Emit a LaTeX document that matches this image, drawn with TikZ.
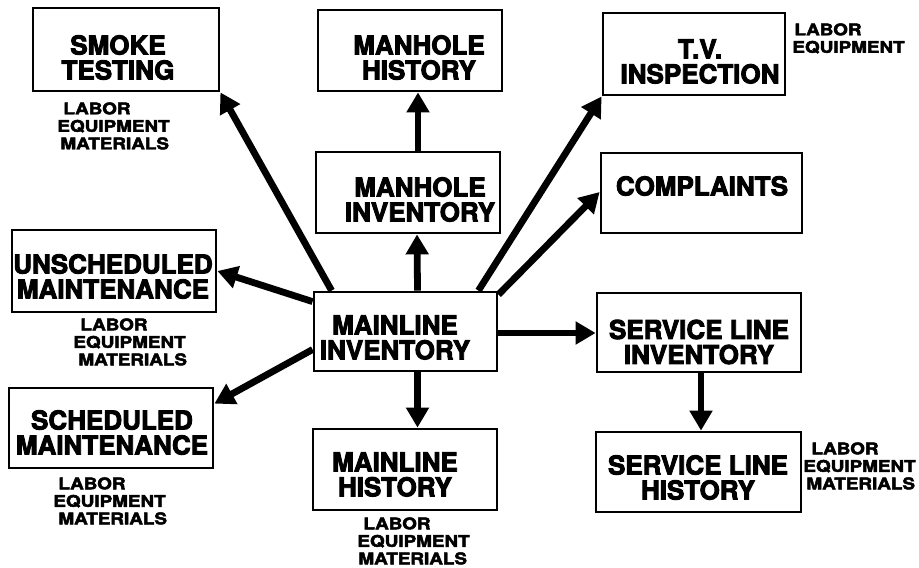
\documentclass[tikz,border=0pt]{standalone}
\usepackage{fontspec}
\setmainfont{TeX Gyre Heros}[BoldFeatures={FakeBold=3.5}]
\newfontfamily\lblfont{TeX Gyre Heros}[FakeStretch=1.18,BoldFeatures={FakeBold=3}]
\usetikzlibrary{arrows.meta,calc}
\newcommand\drawbox[5]{\node[boxnode, minimum width={(#4-#2)*0.5pt}, minimum height={(#5-#3)*0.5pt}] (#1) at ({(#2+#4)/2},{(#3+#5)/2}) {};}
\begin{document}
\begin{tikzpicture}[x=0.5pt,y=-0.5pt,
  boxnode/.style={draw, line width=1.4pt, inner sep=0pt, rectangle},
  main/.style={font=\fontsize{13}{12.5}\selectfont\bfseries, align=center, inner sep=0pt},
  lbl/.style={font=\lblfont\fontsize{8}{8.75}\selectfont\bfseries, align=left, inner sep=0pt, anchor=north west},
  arr/.style={line width=3.4pt, -{Triangle[width=11pt,length=10pt]}}]
\useasboundingbox (0,0) rectangle (919,567);

% boxes
\drawbox{smoke}{33}{8}{219}{91}
\drawbox{mhist}{318}{10}{502}{91}
\drawbox{tv}{603}{13}{785}{95}
\drawbox{mhinv}{316}{152}{500}{233}
\drawbox{compl}{601}{153}{802}{233}
\drawbox{unsch}{12}{230}{216}{312}
\drawbox{mlinv}{314}{292}{497}{371}
\drawbox{slinv}{597}{293}{801}{372}
\drawbox{sched}{9}{388}{213}{468}
\drawbox{mlhist}{313}{429}{497}{510}
\drawbox{slhist}{596}{432}{801}{512}

% box texts
\node[main] (smoke-t) at (118,57.5) {SMOKE\\TESTING};
\node[main] (mhist-t) at (419,57.5) {MANHOLE\\HISTORY};
\node[main] (tv-t) at (700,61.5) {T.V.\\INSPECTION};
\node[main] (mhinv-t) at (420,199.5) {MANHOLE\\INVENTORY};
\node[main] (compl-t) at (702,186) {COMPLAINTS};
\node[main] (unsch-t) at (113,276.5) {UNSCHEDULED\\MAINTENANCE};
\node[main] (mlinv-t) at (395,337.5) {MAINLINE\\INVENTORY};
\node[main] (slinv-t) at (699,342) {SERVICE LINE\\INVENTORY};
\node[main] (sched-t) at (112,432.5) {SCHEDULED\\MAINTENANCE};
\node[main] (mlhist-t) at (395,474.5) {MAINLINE\\HISTORY};
\node[main] (slhist-t) at (698,477.5) {SERVICE LINE\\HISTORY};

% resource labels
\node[lbl] (smoke-l) at (57,102) {\hspace*{3pt}LABOR\\EQUIPMENT\\\hspace*{1.5pt}MATERIALS};
\node[lbl] (unsch-l) at (73,318) {\hspace*{3.5pt}LABOR\\EQUIPMENT\\\hspace*{2.5pt}MATERIALS};
\node[lbl] (sched-l) at (53,477) {\hspace*{2.5pt}LABOR\\EQUIPMENT\\\hspace*{2.5pt}MATERIALS};
\node[lbl] (mlhist-l) at (357,517) {\hspace*{3pt}LABOR\\EQUIPMENT\\\hspace*{0.5pt}MATERIALS};
\node[lbl] (tv-l) at (792,23) {\hspace*{1pt}LABOR\\EQUIPMENT};
\node[lbl] (slhist-l) at (803,442) {\hspace*{4pt}LABOR\\EQUIPMENT\\\hspace*{1.5pt}MATERIALS};

% connectors
\draw[arr] ($(mhinv.north)+(10,0)$) -- ($(mhist.south)+(8,0)$);
\draw[arr] ($(mlinv.north)+(12,0)$) -- ($(mhinv.south)+(9,0)$);
\draw[arr] ($(mlinv.south)+(12,0)$) -- ($(mlhist.north)+(12.5,0)$);
\draw[arr] ($(mlinv.east)+(0,1.5)$) -- ($(slinv.west)+(0,0.5)$);
\draw[arr] ($(slinv.south)+(2,0)$) -- ($(slhist.north)+(2.5,0)$);
\draw[arr] ($(mlinv.north west)+(19,0)$) -- (smoke.south east);
\draw[arr] ($(mlinv.north west)+(0,11)$) -- (unsch.east);
\draw[arr] ($(mlinv.west)+(0,18)$) -- ($(sched.north east)+(0,17)$);
\draw[arr] ($(mlinv.north east)+(-20,0)$) -- (tv.south west);
\draw[arr] ($(mlinv.north east)+(0,4)$) -- ($(compl.west)+(0,-1)$);
\end{tikzpicture}
\end{document}
